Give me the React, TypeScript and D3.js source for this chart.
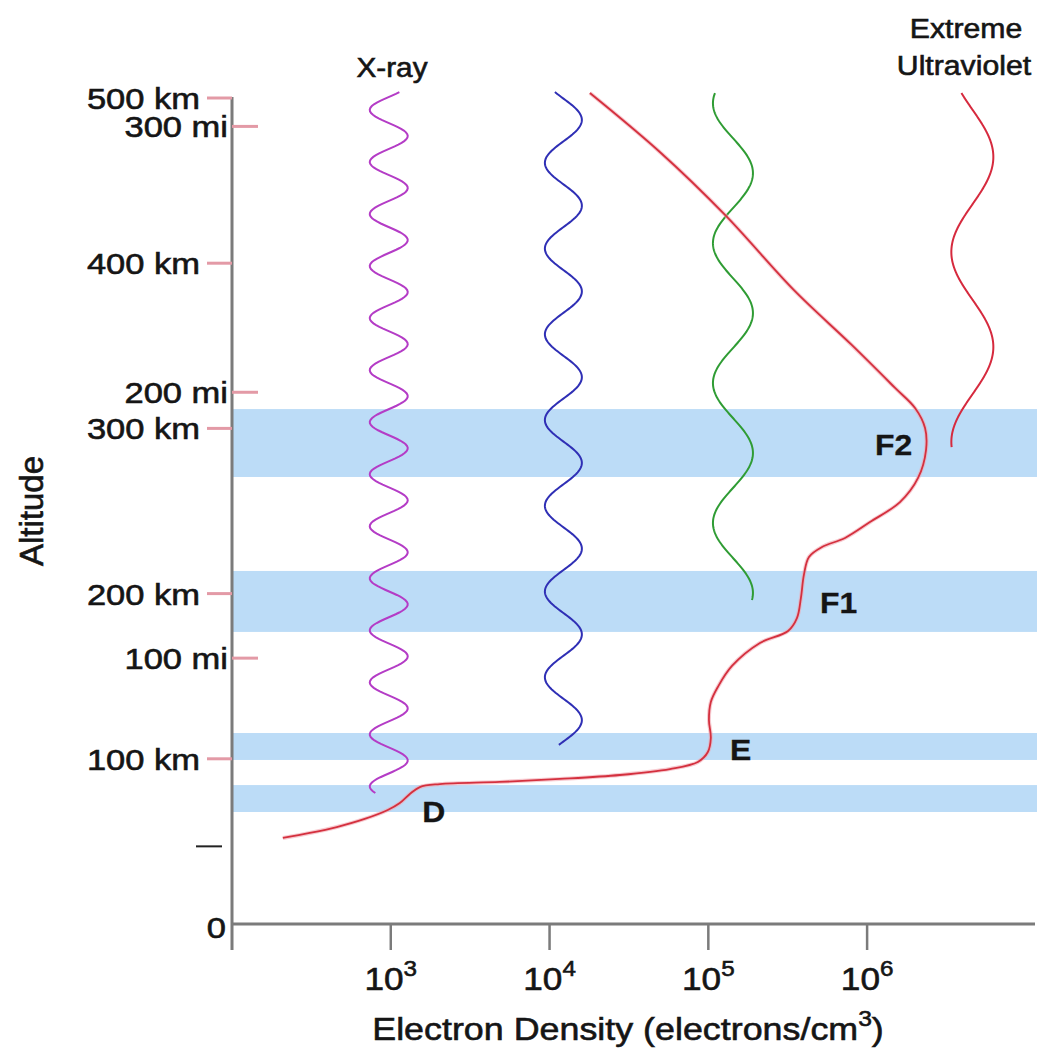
import React from 'react';
import * as d3 from 'd3';

// ---------- data ----------
const kmTicks = [100, 200, 300, 400, 500];
const miTicks = [100, 200, 300];
const KM_PER_MI = 1.609344;
const densityExponents = [3, 4, 5, 6];

const layerNames = ['F2', 'F1', 'E', 'D'];
const layerTopKm = [311.7, 213.7, 115.6, 84.1];
const layerBottomKm = [270.6, 176.8, 99.3, 67.8];
const layerLabelDensity = [1.12e6, 5.05e5, 1.37e5, 1.58e3];
const layerLabelKm = [283.9, 188.3, 99.3, 61.7];

// electron density profile (electrons/cm^3) vs altitude (km)
const profileDensity = [
  209, 309, 457, 685, 957, 1140, 1318, 1524, 2037, 4864,
  11610, 27730, 57280, 85900, 99300, 103700, 100900, 103700, 114800, 140900,
  211300, 317700, 361400, 382800, 399900, 430500, 520000, 726100, 1.042e6, 1.611e6,
  2.094e6, 2.35e6, 2.317e6, 2.004e6, 1.5e6, 8.0e5, 3.45e5, 1.274e5, 4.95e4, 1.795e4,
];
const profileKm = [
  52.1, 55.1, 58.7, 63.6, 69.0, 73.2, 78.7, 82.9, 84.7, 86.0,
  87.8, 90.2, 93.8, 98.1, 104.1, 112.6, 123.5, 134.4, 143.5, 156.2,
  170.1, 177.4, 185.2, 197.3, 211.3, 222.2, 228.2, 233.7, 243.3, 255.4,
  270.0, 286.9, 300.2, 312.3, 324.5, 350.5, 383.8, 429.2, 467.3, 503.0,
];

// incoming radiation waves (illustrative)
const waveNames = ['X-ray', 'mid1', 'mid2', 'Extreme Ultraviolet'];
const waveColors = ['#b43cc6', '#2f2fb5', '#2f9c34', '#d62a3e'];
const waveCenterDensity = [971, 12220, 142900, 4.6e6];
const waveTopKm = [503.6, 503.6, 503.0, 503.0];
const waveBottomKm = [79.3, 108.4, 196.1, 288.7];
const waveLengthKm = [31.5, 51.9, 84.7, 115.0];
const wavePeakKm = [477.0, 486.7, 285.1, 464.3];
const waveAmpPx = [19, 18.5, 20, 21];

// ---------- layout ----------
const W = 1037;
const H = 1048;
const FONT = "'Liberation Sans', Arial, Helvetica, sans-serif";

const x = d3.scaleLog().domain([100, 10 ** 7.07]).range([232, 1037]);
const y = d3.scaleLinear().domain([0, 500]).range([924, 98]);

function T({ x: tx, y: ty, sx = 1, anchor = 'start', size = 28, children, weight = 'normal' }: any) {
  return (
    <text
      transform={`translate(${tx},${ty}) scale(${sx},1)`}
      textAnchor={anchor}
      fontSize={size}
      fontFamily={FONT}
      fontWeight={weight}
      fill="#151515"
      stroke="#151515"
      strokeWidth={weight === 'bold' ? 0.3 : 0.6}
    >
      {children}
    </text>
  );
}

export default function App() {
  const profile = d3
    .line<number>()
    .x((_, i) => x(profileDensity[i]))
    .y((_, i) => y(profileKm[i]))
    .curve(d3.curveCatmullRom.alpha(0.5))(profileDensity as any);

  const wavePaths = waveNames.map((_, w) => {
    const pts: [number, number][] = [];
    const n = 400;
    for (let k = 0; k <= n; k++) {
      const alt = waveTopKm[w] + (waveBottomKm[w] - waveTopKm[w]) * (k / n);
      const cx = x(waveCenterDensity[w]);
      pts.push([
        cx + waveAmpPx[w] * Math.cos((2 * Math.PI * (alt - wavePeakKm[w])) / waveLengthKm[w]),
        y(alt),
      ]);
    }
    return d3.line()(pts);
  });

  const axisColor = '#7b7b7b';
  const tickPink = '#e39aa6';

  return (
    <svg
      width={W}
      height={H}
      style={{ position: 'absolute', left: 0, top: 0, background: '#fff' }}
    >
      {/* bands */}
      {layerNames.map((n, i) => (
        <rect
          key={n}
          x={x(100) + 1}
          y={y(layerTopKm[i])}
          width={W - x(100)}
          height={y(layerBottomKm[i]) - y(layerTopKm[i])}
          fill="#bcdcf7"
        />
      ))}

      {/* waves */}
      {wavePaths.map((p, i) => (
        <path key={i} d={p || ''} fill="none" stroke={waveColors[i]} strokeWidth={2} />
      ))}

      {/* profile */}
      <path d={profile || ''} fill="none" stroke="#f2a6b0" strokeWidth={4} opacity={0.6} />
      <path d={profile || ''} fill="none" stroke="#d4303e" strokeWidth={1.8} />

      {/* axes */}
      <line x1={x(100)} x2={x(100)} y1={97} y2={950} stroke={axisColor} strokeWidth={3} />
      <line x1={x(100)} x2={1035} y1={y(0)} y2={y(0)} stroke={axisColor} strokeWidth={3} />
      {densityExponents.map((e) => (
        <line key={e} x1={x(10 ** e)} x2={x(10 ** e)} y1={y(0)} y2={950} stroke={axisColor} strokeWidth={2.5} />
      ))}

      {/* km ticks */}
      {kmTicks.map((k) => (
        <g key={'km' + k}>
          <line x1={207} x2={x(100)} y1={y(k)} y2={y(k)} stroke={tickPink} strokeWidth={3} />
          <T x={200} y={y(k) + 11} anchor="end" size={30} sx={1.15}>{`${k} km`}</T>
        </g>
      ))}
      {/* mile ticks */}
      {miTicks.map((m) => (
        <g key={'mi' + m}>
          <line x1={x(100)} x2={258} y1={y(m * KM_PER_MI)} y2={y(m * KM_PER_MI)} stroke={tickPink} strokeWidth={3} />
          <T x={228} y={y(m * KM_PER_MI) + 11} anchor="end" size={30} sx={1.15}>{`${m} mi`}</T>
        </g>
      ))}
      <line x1={196} x2={222} y1={y(47)} y2={y(47)} stroke="#222" strokeWidth={2} />
      <T x={226} y={y(0) + 14} anchor="end" size={30} sx={1.15}>0</T>

      {/* x tick labels */}
      {densityExponents.map((e) => (
        <T key={'xl' + e} x={x(10 ** e)} y={990} anchor="middle" size={32} sx={1.1}>
          <tspan>10</tspan>
          <tspan dy={-14} fontSize={22}>{e}</tspan>
        </T>
      ))}

      {/* axis titles */}
      <T x={628} y={1040} anchor="middle" size={32} sx={1.12}>
        <tspan>Electron Density (electrons/cm</tspan>
        <tspan dy={-14} fontSize={22}>3</tspan>
        <tspan dy={14}>)</tspan>
      </T>
      <text
        transform="translate(43,511) rotate(-90)"
        textAnchor="middle"
        fontSize={33}
        fontFamily={FONT}
        fill="#151515"
        stroke="#151515"
        strokeWidth={0.6}
      >
        Altitude
      </text>

      {/* wave labels */}
      <T x={392} y={77} anchor="middle" size={27} sx={1.1}>X-ray</T>
      <T x={966} y={38} anchor="middle" size={27} sx={1.12}>Extreme</T>
      <T x={964} y={75} anchor="middle" size={27} sx={1.12}>Ultraviolet</T>

      {/* layer labels */}
      {layerNames.map((n, i) => (
        <T key={'ll' + n} x={x(layerLabelDensity[i])} y={y(layerLabelKm[i])} size={29} sx={1.1} weight="bold">
          {n}
        </T>
      ))}
    </svg>
  );
}
